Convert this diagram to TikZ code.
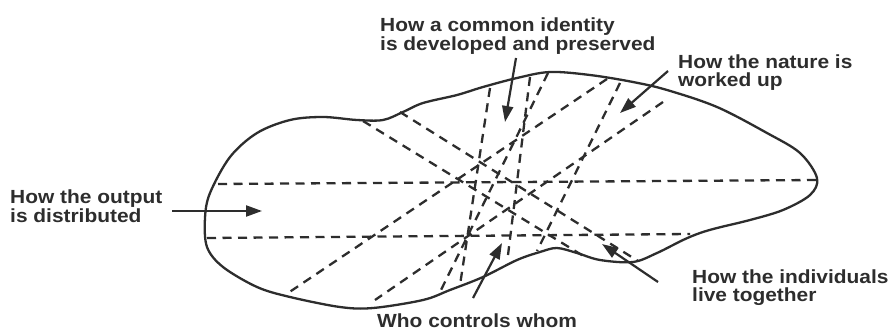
\documentclass[tikz,border=0pt]{standalone}
\usepackage{fontspec}
\setmainfont{Liberation Sans}[FakeStretch=1.1]
\usetikzlibrary{arrows.meta}
\definecolor{ink}{RGB}{45,45,45}
\begin{document}
\begin{tikzpicture}[x=1pt,y=-1pt,
  outline/.style={draw=ink,line width=2.3pt,line join=round},
  dashline/.style={draw=ink,line width=2.3pt,dash pattern=on 9pt off 6.5pt},
  pointer/.style={draw=ink,line width=2.2pt,-{Triangle[length=16pt,width=11pt]}},
  lbl/.style={font=\fontsize{19}{17.5}\selectfont\bfseries,text=ink,align=left,anchor=north west,inner sep=0pt}]
\fill[white] (0,0) rectangle (888,332);
\useasboundingbox (0,0) rectangle (888,332);
% blob outline
\draw[outline] plot[smooth cycle,tension=0.55] coordinates {
 (205,218) (210,193) (230,157) (257,133) (290,120) (323,117) (357,120) (383,120)
 (403,112) (423,103) (457,95) (483,87) (517,78) (550,72) (590,75) (633,82)
 (667,90) (717,107) (767,133) (800,153) (817,178) (810,195) (783,210) (750,220)
 (717,228) (700,233) (683,240) (657,253) (633,262) (600,260) (577,253) (557,248)
 (540,252) (517,260) (483,277) (450,290) (423,300) (373,308) (340,307) (290,297)
 (257,287) (223,267) (207,247)};
% end points of dashed lines
\coordinate (h1a) at (218,184); \coordinate (h1b) at (817,180);
\coordinate (h2a) at (207,238); \coordinate (h2b) at (690,234);
\coordinate (aa) at (363,121);  \coordinate (ab) at (585,257);
\coordinate (ba) at (400,112);  \coordinate (bb) at (638,261);
\coordinate (ca) at (607,79);   \coordinate (cb) at (288,293);
\coordinate (da) at (663,102);  \coordinate (db) at (375,300);
\coordinate (v1a) at (490,88);  \coordinate (v1b) at (460,285);
\coordinate (v2a) at (530,77);  \coordinate (v2b) at (508,255);
\coordinate (v3a) at (548,73);  \coordinate (v3b) at (440,292);
\coordinate (v5a) at (620,83);  \coordinate (v5b) at (537,251);
\draw[dashline] (h1a) -- (h1b);
\draw[dashline] (h2a) -- (h2b);
\draw[dashline] (aa) -- (ab);
\draw[dashline] (ba) -- (bb);
\draw[dashline] (ca) -- (cb);
\draw[dashline] (da) -- (db);
\draw[dashline] (v1a) -- (v1b);
\draw[dashline] (v2a) -- (v2b);
\draw[dashline] (v3a) -- (v3b);
\draw[dashline] (v5a) -- (v5b);
% labels
\node[lbl] (out) at (10,190) {How the output\\is distributed};
\node[lbl] (ident) at (380,18) {How a common identity\\is developed and preserved};
\node[lbl] (nat) at (678,55) {How the nature is\\worked up};
\node[lbl] (ind) at (692,270) {How the individuals\\live together};
\node[lbl] (who) at (377,314) {Who controls whom};
% arrows
\coordinate (outT) at (172,211); \coordinate (outH) at (262,211);
\coordinate (idT) at (516,58);   \coordinate (idH) at (505,122);
\coordinate (natT) at (668,71);  \coordinate (natH) at (620,113);
\coordinate (whoT) at (473,298); \coordinate (whoH) at (502,243);
\coordinate (indT) at (658,282); \coordinate (indH) at (602,244);
\draw[pointer] (outT) -- (outH);
\draw[pointer] (idT) -- (idH);
\draw[pointer] (natT) -- (natH);
\draw[pointer] (whoT) -- (whoH);
\draw[pointer] (indT) -- (indH);
\end{tikzpicture}
\end{document}
